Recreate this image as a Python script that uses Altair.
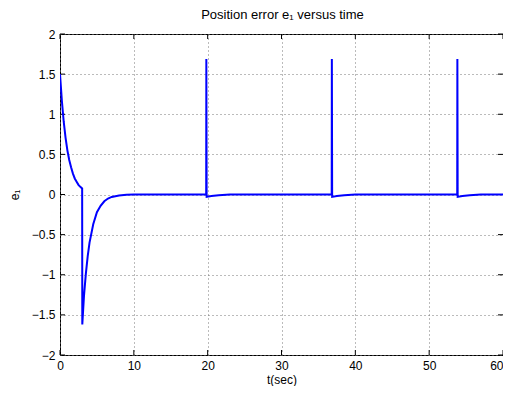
import altair as alt
import pandas as pd

# Time samples (s) and position error e1
t_vals = [0.0, 0.25, 0.5, 0.75, 1.0, 1.25, 1.5, 1.75, 2.0, 2.25, 2.5, 2.75, 3.0,
          3.02, 3.25, 3.5, 3.75, 4.0, 4.5, 5.0, 5.5, 6.0, 6.5, 7.0, 8.0, 9.0, 10.0,
          19.8, 19.82, 19.86, 20.5, 21.5, 23.0,
          36.8, 36.82, 36.86, 37.5, 38.5, 40.0,
          53.8, 53.82, 53.86, 54.5, 55.5, 57.0, 60.0]
e_vals = [1.5, 1.17, 0.91, 0.71, 0.55, 0.43, 0.34, 0.26, 0.2, 0.16, 0.12, 0.095, 0.075,
          -1.62, -1.26, -0.99, -0.77, -0.6, -0.37, -0.22, -0.14, -0.085, -0.05, -0.03, -0.012, -0.004, 0.0,
          0.0, 1.69, -0.03, -0.02, -0.008, 0.0,
          0.0, 1.69, -0.03, -0.02, -0.008, 0.0,
          0.0, 1.69, -0.03, -0.02, -0.008, 0.0, 0.0]

x_ticks = [0, 10, 20, 30, 40, 50, 60]
y_ticks = [-2, -1.5, -1, -0.5, 0, 0.5, 1, 1.5, 2]
title_text = ["Position error e₁ versus time"]

W, H = 443, 321
FONT = "Liberation Sans"

df = pd.DataFrame({"t": t_vals, "e": e_vals, "i": list(range(len(t_vals)))})
xt = pd.DataFrame({"v": x_ticks})
yt = pd.DataFrame({"v": y_ticks})
tt = pd.DataFrame({"label": title_text})

xscale = alt.Scale(domain=[0, 60], nice=False, zero=False)
yscale = alt.Scale(domain=[-2, 2], nice=False, zero=False)

line = alt.Chart(df).mark_line(color="#0000FF", strokeWidth=2, clip=True).encode(
    x=alt.X("t:Q", scale=xscale, title="t(sec)",
            axis=alt.Axis(values=x_ticks, grid=True, gridDash=[1, 3], gridColor="#777777",
                          gridOpacity=1, domain=False, ticks=False, labelPadding=5,
                          labelFontSize=12, labelFont=FONT, labelColor="#000000",
                          labelAlign=alt.ExprRef("datum.value == 60 ? 'right' : 'center'"),
                          titleFontSize=12, titleFont=FONT, titleFontWeight="normal",
                          titleColor="#000000", titleBaseline="middle", titleY=24,
                          labelFlush=False)),
    y=alt.Y("e:Q", scale=yscale, title="e₁",
            axis=alt.Axis(values=y_ticks, format="~g", grid=True, gridDash=[1, 3],
                          gridColor="#777777", gridOpacity=1, domain=False, ticks=False,
                          labelPadding=5, labelFontSize=12, labelFont=FONT,
                          labelColor="#000000", titleFontSize=12, titleFont=FONT,
                          titleFontWeight="normal", titleColor="#000000", titleX=-46,
                          titleY=H / 2, titleBaseline="middle", labelFlush=False)),
    order="i:Q",
)

tick_len = 5
xt_bot = alt.Chart(xt).mark_rule(color="#000000", strokeWidth=1).encode(
    x=alt.X("v:Q", scale=xscale), y=alt.value(H), y2=alt.value(H - tick_len))
xt_top = alt.Chart(xt).mark_rule(color="#000000", strokeWidth=1).encode(
    x=alt.X("v:Q", scale=xscale), y=alt.value(0), y2=alt.value(tick_len))
yt_left = alt.Chart(yt).mark_rule(color="#000000", strokeWidth=1).encode(
    y=alt.Y("v:Q", scale=yscale), x=alt.value(0), x2=alt.value(tick_len))
yt_right = alt.Chart(yt).mark_rule(color="#000000", strokeWidth=1).encode(
    y=alt.Y("v:Q", scale=yscale), x=alt.value(W), x2=alt.value(W - tick_len))

title = alt.Chart(tt).mark_text(font=FONT, fontSize=13, color="#000000",
                                align="center", baseline="alphabetic").encode(
    text="label:N", x=alt.value(W / 2 + 1), y=alt.value(-15))

chart = alt.layer(xt_bot, xt_top, yt_left, yt_right, line, title).properties(
    width=W, height=H,
    autosize=alt.AutoSizeParams(type="none"),
    padding={"left": 52, "top": 26, "right": 0, "bottom": 31},
    background="#FFFFFF",
).configure_view(stroke="#000000", strokeWidth=1)

chart.save("out.html", embed_options={"renderer": "svg", "actions": False})
